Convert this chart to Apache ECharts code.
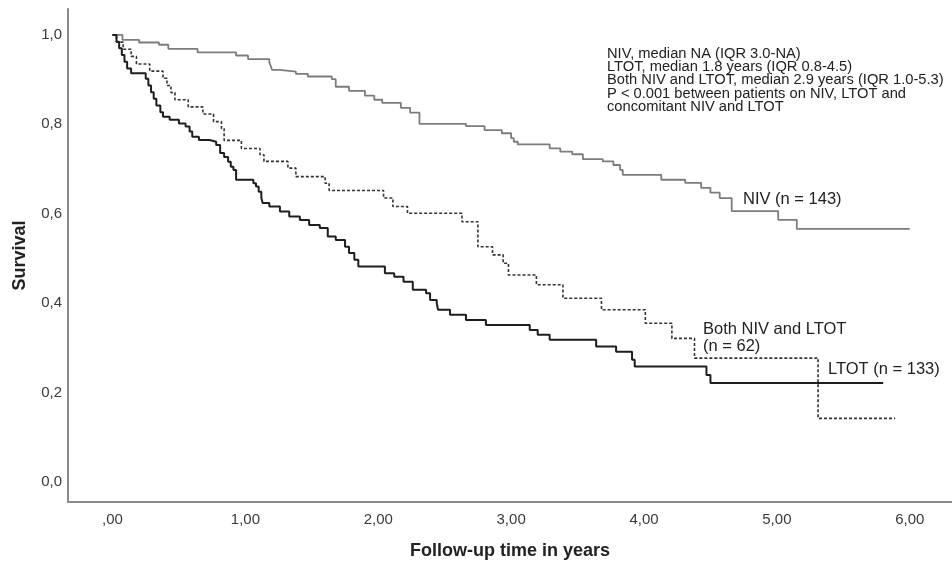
<!DOCTYPE html>
<html>
<head>
<meta charset="utf-8">
<script src="https://cdn.jsdelivr.net/npm/echarts@6/dist/echarts.min.js"></script>
<style>
  html, body { margin: 0; padding: 0; background: #fff; }
  #chart { width: 952px; height: 564px; }
</style>
</head>
<body>
<div id="chart"></div>
<script>
// Kaplan-Meier survival estimates (time in years, survival proportion)
const nivTime = [0, 0.075, 0.20, 0.35, 0.42, 0.64, 0.93, 1.02, 1.18, 1.19, 1.20, 1.26, 1.38, 1.47, 1.65, 1.68, 1.78, 1.90, 1.97, 2.03, 2.17, 2.24, 2.31, 2.66, 2.80, 2.93, 3.00, 3.02, 3.05, 3.29, 3.37, 3.46, 3.54, 3.69, 3.77, 3.82, 3.84, 4.13, 4.31, 4.43, 4.50, 4.57, 4.66, 5.01, 5.15, 6.00];
const nivSurv = [1, 0.989, 0.983, 0.978, 0.969, 0.961, 0.954, 0.946, 0.939, 0.931, 0.922, 0.918, 0.913, 0.907, 0.901, 0.884, 0.875, 0.864, 0.855, 0.848, 0.837, 0.826, 0.801, 0.796, 0.787, 0.780, 0.769, 0.761, 0.755, 0.746, 0.739, 0.733, 0.722, 0.717, 0.709, 0.698, 0.687, 0.676, 0.669, 0.658, 0.647, 0.635, 0.606, 0.586, 0.566, 0.566];

const ltotTime = [0, 0.03, 0.05, 0.07, 0.09, 0.11, 0.14, 0.25, 0.27, 0.29, 0.31, 0.33, 0.36, 0.38, 0.43, 0.50, 0.55, 0.58, 0.60, 0.65, 0.73, 0.78, 0.81, 0.84, 0.87, 0.89, 0.91, 0.93, 1.06, 1.08, 1.10, 1.12, 1.13, 1.18, 1.26, 1.33, 1.41, 1.48, 1.56, 1.62, 1.68, 1.75, 1.78, 1.82, 1.85, 2.05, 2.12, 2.19, 2.26, 2.36, 2.39, 2.44, 2.45, 2.54, 2.66, 2.81, 3.14, 3.20, 3.29, 3.64, 3.79, 3.91, 3.93, 4.47, 4.50, 5.80];
const ltotSurv = [1, 0.985, 0.970, 0.955, 0.940, 0.925, 0.914, 0.902, 0.887, 0.872, 0.857, 0.842, 0.827, 0.817, 0.810, 0.802, 0.795, 0.784, 0.772, 0.765, 0.761, 0.754, 0.736, 0.727, 0.716, 0.705, 0.698, 0.676, 0.668, 0.661, 0.649, 0.636, 0.624, 0.616, 0.605, 0.594, 0.586, 0.575, 0.568, 0.549, 0.541, 0.526, 0.512, 0.497, 0.482, 0.467, 0.459, 0.448, 0.430, 0.422, 0.407, 0.400, 0.385, 0.374, 0.362, 0.351, 0.340, 0.329, 0.318, 0.303, 0.291, 0.273, 0.258, 0.239, 0.221, 0.221];

const bothTime = [0, 0.03, 0.08, 0.14, 0.18, 0.28, 0.38, 0.41, 0.44, 0.47, 0.57, 0.68, 0.76, 0.82, 0.84, 0.97, 1.11, 1.14, 1.32, 1.38, 1.60, 1.63, 2.04, 2.11, 2.22, 2.63, 2.75, 2.86, 2.94, 2.98, 3.19, 3.39, 3.68, 4.01, 4.21, 4.38, 5.31, 5.89];
const bothSurv = [1, 0.984, 0.968, 0.952, 0.935, 0.919, 0.903, 0.887, 0.871, 0.855, 0.839, 0.823, 0.806, 0.790, 0.764, 0.746, 0.732, 0.717, 0.702, 0.683, 0.668, 0.652, 0.635, 0.616, 0.601, 0.582, 0.526, 0.508, 0.489, 0.463, 0.441, 0.411, 0.385, 0.355, 0.321, 0.277, 0.142, 0.142];

// Axis tick labels
const xTicks = [0, 1, 2, 3, 4, 5, 6];
const yTicks = [0, 0.2, 0.4, 0.6, 0.8, 1.0];

const annotationLines = [
  'NIV, median NA (IQR 3.0-NA)',
  'LTOT, median 1.8 years (IQR 0.8-4.5)',
  'Both NIV and LTOT, median 2.9 years (IQR 1.0-5.3)',
  'P < 0.001 between patients on NIV, LTOT and',
  'concomitant NIV and LTOT'
];

const FONT = '"Liberation Sans", Arial, sans-serif';
const zip = (t, s) => t.map((v, i) => [v, s[i]]);

const chart = echarts.init(document.getElementById('chart'), null, { renderer: 'canvas' });

const fmtX = v => v === 0 ? ',00' : v.toFixed(2).replace('.', ',');
const fmtY = v => v.toFixed(1).replace('.', ',');

chart.setOption({
  animation: false,
  backgroundColor: '#ffffff',
  grid: { left: 68, right: 0, top: 9, bottom: 62, containLabel: false, outerBoundsMode: 'none' },
  xAxis: {
    type: 'value',
    min: -0.335,
    max: 6.318,
    name: 'Follow-up time in years',
    nameLocation: 'middle',
    nameGap: 40,
    nameTextStyle: { fontFamily: FONT, fontSize: 18, fontWeight: 'bold', color: '#222' },
    axisLine: { show: true, onZero: false, lineStyle: { color: '#8a8a8a', width: 2 } },
    axisTick: { show: false },
    splitLine: { show: false },
    axisLabel: {
      customValues: xTicks,
      formatter: fmtX,
      fontFamily: FONT, fontSize: 15, color: '#3a3a3a', margin: 10
    }
  },
  yAxis: {
    type: 'value',
    min: -0.045,
    max: 1.058,
    name: 'Survival',
    nameLocation: 'middle',
    nameGap: 39,
    nameTextStyle: { fontFamily: FONT, fontSize: 18, fontWeight: 'bold', color: '#222' },
    axisLine: { show: true, onZero: false, lineStyle: { color: '#8a8a8a', width: 2 } },
    axisTick: { show: false },
    splitLine: { show: false },
    axisLabel: {
      customValues: yTicks,
      formatter: fmtY,
      fontFamily: FONT, fontSize: 15, color: '#3a3a3a', margin: 6
    }
  },
  series: [
    {
      name: 'NIV', type: 'line', step: 'end', showSymbol: false, symbol: 'none',
      data: zip(nivTime, nivSurv),
      lineStyle: { color: '#7c7c7c', width: 1.8 }
    },
    {
      name: 'Both NIV and LTOT', type: 'line', step: 'end', showSymbol: false, symbol: 'none',
      data: zip(bothTime, bothSurv),
      lineStyle: { color: '#333333', width: 1.6, type: [3, 2] }
    },
    {
      name: 'LTOT', type: 'line', step: 'end', showSymbol: false, symbol: 'none',
      data: zip(ltotTime, ltotSurv),
      lineStyle: { color: '#1e1e1e', width: 2 }
    }
  ],
  graphic: [
    {
      type: 'text', left: 607, top: 46,
      style: { text: annotationLines.join('\n'), font: '14.7px ' + FONT, lineHeight: 13.4, fill: '#222' }
    },
    {
      type: 'text', left: 743, top: 191,
      style: { text: 'NIV (n = 143)', font: '16.5px ' + FONT, fill: '#222' }
    },
    {
      type: 'text', left: 703, top: 321,
      style: { text: 'Both NIV and LTOT\n(n = 62)', font: '16.5px ' + FONT, lineHeight: 17, fill: '#222' }
    },
    {
      type: 'text', left: 828, top: 361,
      style: { text: 'LTOT (n = 133)', font: '16.5px ' + FONT, fill: '#222' }
    }
  ]
});
</script>
</body>
</html>
